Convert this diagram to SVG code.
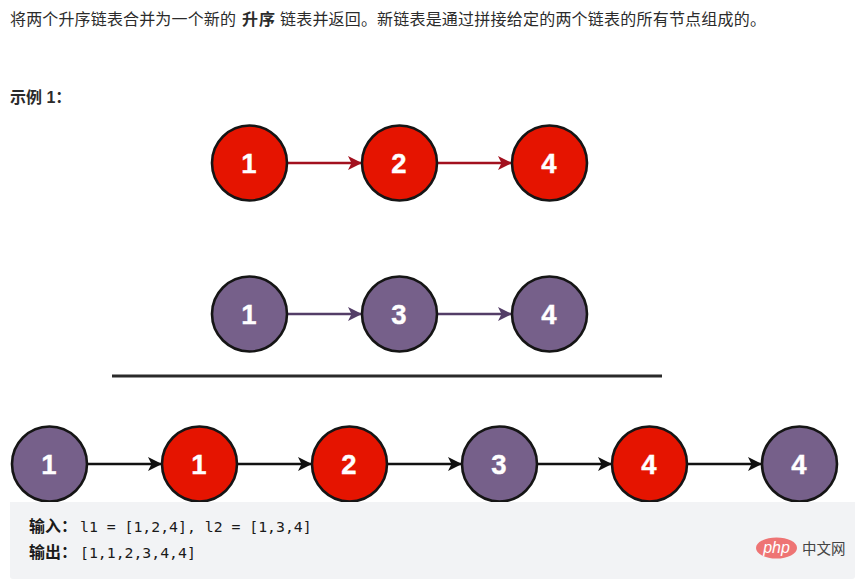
<svg xmlns="http://www.w3.org/2000/svg" width="855" height="581" viewBox="0 0 855 581">
<style>
.t{font-family:"Liberation Sans","Noto Sans CJK SC",sans-serif;font-size:16px;fill:#2b2b2b}
.b{font-weight:700}
.m{font-family:"DejaVu Sans Mono","Liberation Mono","Noto Sans CJK SC",monospace;font-size:14.800px;fill:#1a1a1a}
.mb{font-family:"Noto Sans CJK SC",sans-serif;font-size:16px;font-weight:700;fill:#1a1a1a}
.n{stroke:#151515;stroke-width:2.6}
.r{fill:#e51400}
.p{fill:#76608a}
.l{font-family:"Liberation Sans",sans-serif;font-size:27.500px;font-weight:700;fill:#fff;stroke:#fff;stroke-width:.4;text-anchor:middle}
.c{fill:none;stroke-width:2.6}
</style>
<defs>
<marker id="ar" markerUnits="userSpaceOnUse" markerWidth="16" markerHeight="16" refX="15" refY="8" orient="auto"><path d="M1 1L15 8L1 15L4.5 8Z" fill="#a2101e"/></marker>
<marker id="ap" markerUnits="userSpaceOnUse" markerWidth="16" markerHeight="16" refX="15" refY="8" orient="auto"><path d="M1 1L15 8L1 15L4.5 8Z" fill="#533d67"/></marker>
<marker id="ak" markerUnits="userSpaceOnUse" markerWidth="16" markerHeight="16" refX="15" refY="8" orient="auto"><path d="M1 1L15 8L1 15L4.5 8Z" fill="#111"/></marker>
</defs>
<rect width="855" height="581" fill="#fff"/>
<rect x="10" y="502" width="845" height="77" rx="3" fill="#f2f3f5"/>
<text class="t" x="10" y="24.500" textLength="226">将两个升序链表合并为一个新的</text>
<text class="t b" x="242" y="24.500" textLength="33">升序</text>
<text class="t" x="280" y="24.500" textLength="97">链表并返回。</text>
<text class="t" x="377" y="24.500" textLength="389">新链表是通过拼接给定的两个链表的所有节点组成的。</text>
<text class="t b" x="10" y="103">示例 1：</text>
<g id="connectors">
<path class="c" stroke="#a2101e" marker-end="url(#ar)" d="M288 163H362"/>
<path class="c" stroke="#a2101e" marker-end="url(#ar)" d="M438 163H512"/>
<path class="c" stroke="#533d67" marker-end="url(#ap)" d="M288 314H362"/>
<path class="c" stroke="#533d67" marker-end="url(#ap)" d="M438 314H512"/>
<path d="M112 376H662" fill="none" stroke="#2a2a2a" stroke-width="3"/>
<path class="c" stroke="#111" marker-end="url(#ak)" d="M88 464H162"/>
<path class="c" stroke="#111" marker-end="url(#ak)" d="M238 464H312"/>
<path class="c" stroke="#111" marker-end="url(#ak)" d="M388 464H462"/>
<path class="c" stroke="#111" marker-end="url(#ak)" d="M538 464H612"/>
<path class="c" stroke="#111" marker-end="url(#ak)" d="M688 464H762"/>
</g>
<g id="a1"><circle class="n r" cx="249.500" cy="163" r="37.500"/><text class="l" x="249" y="173">1</text></g>
<g id="a2"><circle class="n r" cx="399.500" cy="163" r="37.500"/><text class="l" x="399" y="173">2</text></g>
<g id="a3"><circle class="n r" cx="549.500" cy="163" r="37.500"/><text class="l" x="549" y="173">4</text></g>
<g id="b1"><circle class="n p" cx="249.500" cy="314" r="37.500"/><text class="l" x="249" y="324">1</text></g>
<g id="b2"><circle class="n p" cx="399.500" cy="314" r="37.500"/><text class="l" x="399" y="324">3</text></g>
<g id="b3"><circle class="n p" cx="549.500" cy="314" r="37.500"/><text class="l" x="549" y="324">4</text></g>
<g id="c1"><circle class="n p" cx="49.500" cy="464" r="37.500"/><text class="l" x="49" y="474">1</text></g>
<g id="c2"><circle class="n r" cx="199.500" cy="464" r="37.500"/><text class="l" x="199" y="474">1</text></g>
<g id="c3"><circle class="n r" cx="349.500" cy="464" r="37.500"/><text class="l" x="349" y="474">2</text></g>
<g id="c4"><circle class="n p" cx="499.500" cy="464" r="37.500"/><text class="l" x="499" y="474">3</text></g>
<g id="c5"><circle class="n r" cx="649.500" cy="464" r="37.500"/><text class="l" x="649" y="474">4</text></g>
<g id="c6"><circle class="n p" cx="799.500" cy="464" r="37.500"/><text class="l" x="799" y="474">4</text></g>
<rect x="10" y="502" width="845" height="8" fill="#f2f3f5"/>
<text class="mb" x="29" y="532">输入：</text>
<text class="m" x="80" y="532">l1 = [1,2,4], l2 = [1,3,4]</text>
<text class="mb" x="29" y="558">输出：</text>
<text class="m" x="80" y="558">[1,1,2,3,4,4]</text>
<g id="logo">
<ellipse cx="776.500" cy="548" rx="20.500" ry="10.500" fill="#ee7474"/>
<text x="776.500" y="553" font-family="Liberation Sans,sans-serif" font-size="16" font-style="italic" fill="#fff" text-anchor="middle">php</text>
<text x="802" y="554" font-family="Noto Sans CJK SC,sans-serif" font-size="14.500" fill="#444">中文网</text>
</g>
</svg>
